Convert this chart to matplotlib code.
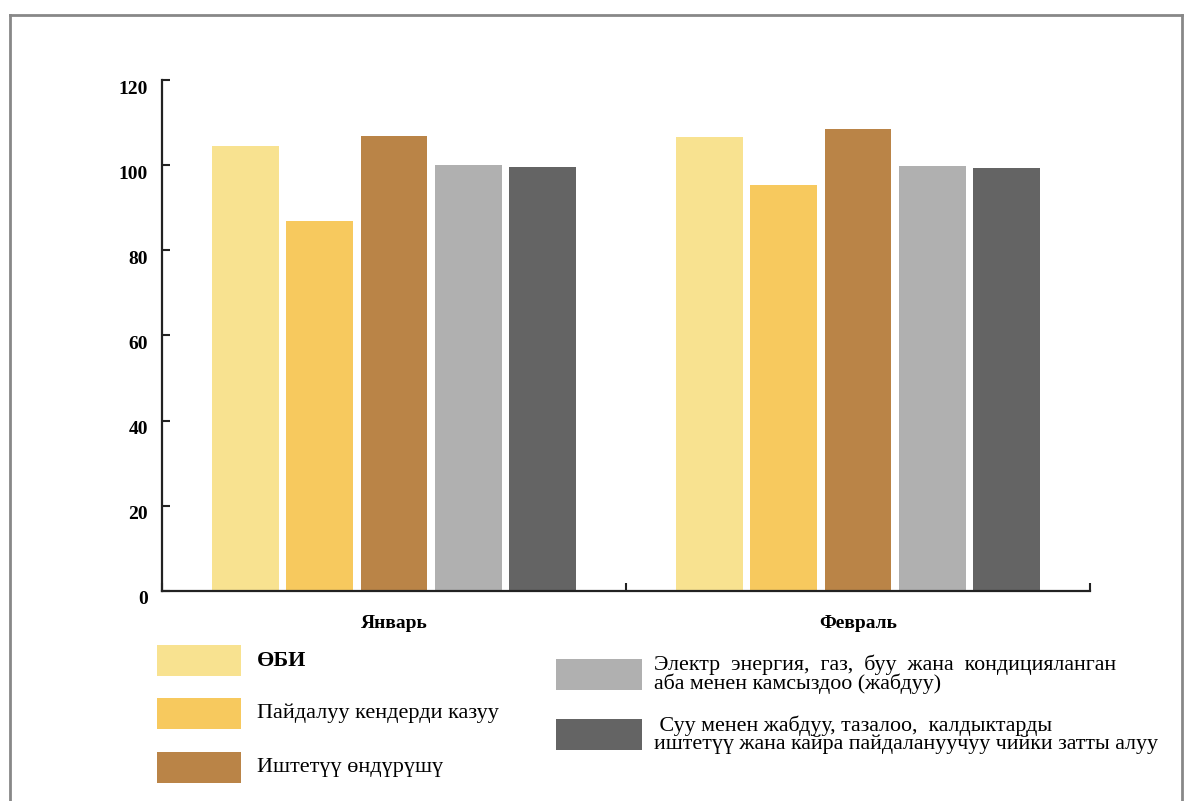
import numpy as np
import matplotlib.pyplot as plt
import matplotlib.transforms as mtransforms
from matplotlib.patches import Rectangle
from matplotlib.lines import Line2D

plt.rcParams['font.family'] = ['Liberation Serif', 'DejaVu Serif']

months = ["Январь", "Февраль"]
series_names = [
    "ӨБИ",
    "Пайдалуу кендерди казуу",
    "Иштетүү өндүрүшү",
    "Электр  энергия,  газ,  буу  жана  кондицияланган\nаба менен камсыздоо (жабдуу)",
    " Суу менен жабдуу, тазалоо,  калдыктарды\nиштетүү жана кайра пайдалануучуу чийки затты алуу",
]
series_colors = ["#F8E290", "#F7C95E", "#BA8447", "#B0B0B0", "#646464"]
values = [
    [104.4, 106.7],
    [86.9, 95.3],
    [106.9, 108.6],
    [100.0, 99.9],
    [99.5, 99.4],
]
yticks = [0, 20, 40, 60, 80, 100, 120]

fig = plt.figure(figsize=(11.97, 8.01), dpi=100)
ax = fig.add_axes([0.1353, 0.2622, 0.7753, 0.6379])

centers = np.arange(len(months)) + 0.5
step = 0.16
width = 0.144
for i, (vals, col) in enumerate(zip(values, series_colors)):
    ax.bar(centers + (i - 2) * step, vals, width=width, color=col,
           edgecolor="none", zorder=2)

ax.set_xlim(0, len(months))
ax.set_ylim(0, 120)
ax.set_yticks(yticks)
ax.set_yticklabels([str(t) for t in yticks], fontsize=14, fontweight="bold")
ax.set_xticks(np.arange(len(months) + 1))
ax.set_xticklabels([])
ax.tick_params(axis="both", direction="in", length=6, width=1.5, color="#222222")
ax.tick_params(axis="y", pad=10)

# tick labels sit a bit below their ticks in the original
offset = mtransforms.ScaledTranslation(0, -7 / 100, fig.dpi_scale_trans)
for lbl in ax.get_yticklabels():
    lbl.set_transform(lbl.get_transform() + offset)

for s in ["top", "right"]:
    ax.spines[s].set_visible(False)
for s in ["left", "bottom"]:
    ax.spines[s].set_linewidth(1.6)
    ax.spines[s].set_color("#222222")

for c, m in zip(centers, months):
    ax.text(c, -0.063, m, transform=ax.get_xaxis_transform(), ha="center",
            va="center", fontsize=14, fontweight="bold")

# legend drawn by hand, two columns
W, H = 1197.0, 801.0
left_col = [(157, 645), (157, 698), (157, 752)]
right_col = [(556, 659), (556, 719)]
boxes = left_col + right_col
for i, ((bx, by), name, col) in enumerate(zip(boxes, series_names, series_colors)):
    bw = 84 if i < 3 else 86
    fig.add_artist(Rectangle((bx / W, 1 - (by + 31) / H), bw / W, 31 / H,
                             facecolor=col, edgecolor="none",
                             transform=fig.transFigure))
    tx = 257 if i < 3 else 654
    fig.text(tx / W, 1 - (by + 15.5) / H, name, ha="left", va="center",
             fontsize=16 if i < 3 else 15.8, linespacing=0.88,
             fontweight="bold" if i == 0 else "normal")

# outer frame
frame_kw = dict(color="#888888", linewidth=2, transform=fig.transFigure)
fig.add_artist(Line2D([10 / W, 10 / W], [0, 1 - 15 / H], **frame_kw))
fig.add_artist(Line2D([10 / W, 1182 / W], [1 - 15 / H, 1 - 15 / H], **frame_kw))
fig.add_artist(Line2D([1182 / W, 1182 / W], [0, 1 - 15 / H], **frame_kw))

fig.savefig("out.png", dpi=100)
